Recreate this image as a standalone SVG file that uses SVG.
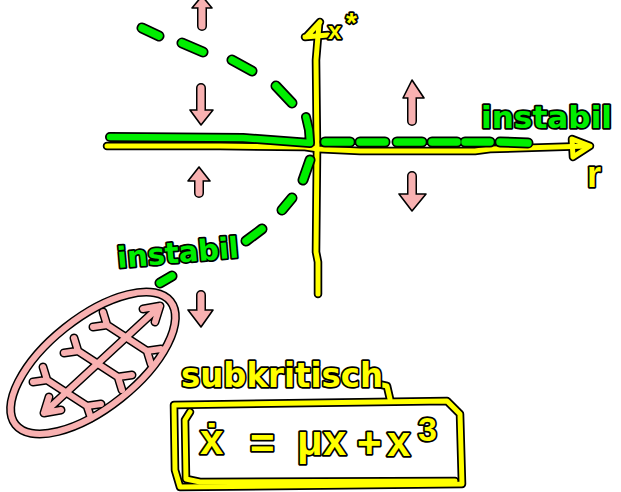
<svg xmlns="http://www.w3.org/2000/svg" xmlns:xlink="http://www.w3.org/1999/xlink" width="621" height="492" viewBox="0 0 621 492">
<style>
.k{fill:none;stroke:#000;stroke-linecap:round;stroke-linejoin:round}
.yc{fill:none;stroke:#ffff00;stroke-linecap:round;stroke-linejoin:round}
.gc{fill:none;stroke:#00ee00;stroke-linecap:round;stroke-linejoin:round}
.pc{fill:none;stroke:#f8b1b1;stroke-linecap:round;stroke-linejoin:round}
.ph{fill:#f8b1b1;stroke:#000;stroke-width:1.6;stroke-linejoin:round}
.tg{fill:#00ee00;stroke:#000;stroke-width:3.5;paint-order:stroke;stroke-linejoin:round;font-family:"DejaVu Sans",sans-serif;font-weight:bold}
.ty{fill:#ffff00;stroke:#000;stroke-width:3.5;paint-order:stroke;stroke-linejoin:round;font-family:"Liberation Sans",sans-serif;font-weight:bold}
</style>
<defs>
<g id="yAxes">
<path d="M318 294 L318 262 L316 252 L317 150 L316 60 L319 24"/>
<path d="M307 36 L320 22 M305 37 L328 35"/>
<path d="M107 146 L220 146 L305 147 L318 149 L360 151 L475 151 L490 149 L588 146"/>
<path d="M572 139 L590 146 L573 157 Z"/>
</g>
<g id="yBox">
<path d="M174 405 L447 401 L460 414 L462 484 L180 487 L175 470 Z"/>
<path d="M190 412 L185 420 L186 479 L200 482 L455 481"/>
<path d="M378 384 L387 386 L390 399"/>
</g>
<g id="gSolid">
<path d="M110 137 L243 138 L310 143 L309 130 L306 117"/>
</g>
<g id="gDash">
<path d="M142 28 L159 36 M182 43 L203 52 M232 60 L252 71 M276 86 L292 103"/>
<path d="M310 160 L303 180 M292 198 L282 210 M262 229 L246 241 M172 276 L160 283"/>
<path d="M325 142 L350 142 M360 142 L385 142 M397 142 L422 142 M432 142 L457 142 M465 142 L490 142 M500 142 L528 143"/>
</g>
<g id="pLines">
<ellipse cx="93" cy="363" rx="99" ry="45" transform="rotate(-38.5 93 363)"/>
<path d="M44 413 L160 306 M143 309 L160 306 L155 322 M61 410 L44 413 L49 397"/>
<path d="M107 325 L147 351 M103 312 L107 325 L93 327 M151 364 L147 351 L161 349"/>
<path d="M78 351 L118 377 M74 338 L78 351 L64 353 M122 390 L118 377 L132 375"/>
<path d="M47 380 L87 406 M43 367 L47 380 L33 382 M91 418 L87 406 L101 404"/>
</g>
<g id="pShafts">
<path d="M202 8 L202 26 M201 88 L201 110 M199 180 L199 193 M201 295 L201 310 M412 96 L412 121 M412 176 L412 195"/>
</g>
</defs>

<g id="axes">
<use xlink:href="#yAxes" class="k" stroke-width="8.5"/>
<use xlink:href="#yAxes" class="yc" stroke-width="5"/>
<text class="ty" x="328" y="39" font-size="24">x<tspan x="346" y="32" font-size="28">*</tspan></text>
<text class="ty" x="587" y="187" font-size="36" font-weight="bold">r</text>
</g>

<g id="branches">
<use xlink:href="#gSolid" class="k" stroke-width="10"/>
<use xlink:href="#gSolid" class="gc" stroke-width="6.5"/>
<use xlink:href="#gDash" class="k" stroke-width="11"/>
<use xlink:href="#gDash" class="gc" stroke-width="7.5"/>
<text class="tg" x="481" y="128" font-size="30" textLength="131" lengthAdjust="spacingAndGlyphs">instabil</text>
<text class="tg" x="118" y="268" font-size="29" textLength="122" lengthAdjust="spacingAndGlyphs" transform="rotate(-5 118 268)">instabil</text>
</g>

<g id="flow-arrows">
<use xlink:href="#pShafts" class="k" stroke-width="10"/>
<path class="ph" d="M202 -4 L212 8 L192 8 Z"/>
<path class="ph" d="M190 110 L213 110 L201 125 Z"/>
<path class="ph" d="M199 167 L210 181 L188 181 Z"/>
<path class="ph" d="M188 310 L213 310 L201 327 Z"/>
<path class="ph" d="M412 80 L424 98 L403 98 Z"/>
<path class="ph" d="M399 194 L426 194 L412 211 Z"/>
<use xlink:href="#pShafts" class="pc" stroke-width="7"/>
</g>

<g id="phase-portrait">
<use xlink:href="#pLines" class="k" stroke-width="9"/>
<use xlink:href="#pLines" class="pc" stroke-width="6"/>
</g>

<g id="equation">
<use xlink:href="#yBox" class="k" stroke-width="8.5"/>
<use xlink:href="#yBox" class="yc" stroke-width="5"/>
<text class="tg" style="fill:#ffff00" x="181" y="387" font-size="34" textLength="202" lengthAdjust="spacingAndGlyphs">subkritisch</text>
<text class="ty" font-size="42"><tspan x="200" y="454">ẋ</tspan><tspan x="250" y="458">=</tspan><tspan x="297" y="455">μ</tspan><tspan x="323" y="455">x</tspan><tspan x="357" y="457">+</tspan><tspan x="387" y="456">x</tspan><tspan x="418" y="441" font-size="34">3</tspan></text>
</g>
</svg>
